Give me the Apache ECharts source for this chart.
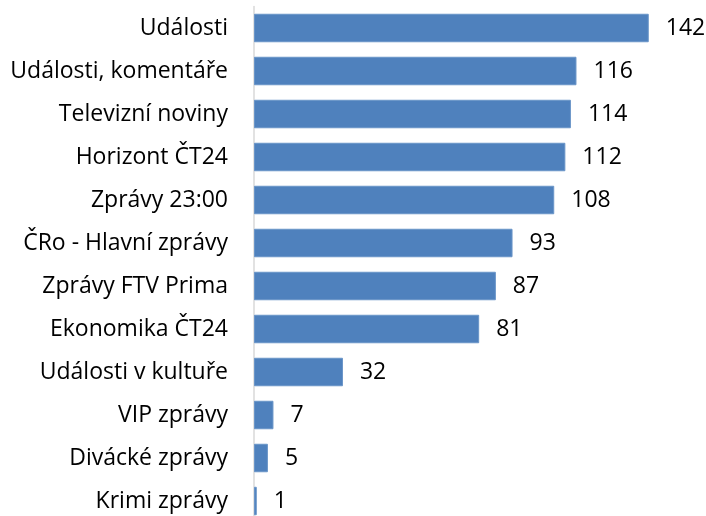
<!DOCTYPE html>
<html><head><meta charset="utf-8">
<script src="https://cdn.jsdelivr.net/npm/echarts@6/dist/echarts.min.js"></script>
<style>html,body{margin:0;padding:0;background:#fff}#c{width:706px;height:516px}</style>
</head><body><div id="c"></div>
<script>
const categories = ["Události","Události, komentáře","Televizní noviny","Horizont ČT24","Zprávy 23:00","ČRo - Hlavní zprávy","Zprávy FTV Prima","Ekonomika ČT24","Události v kultuře","VIP zprávy","Divácké zprávy","Krimi zprávy"];
const values = [142,116,114,112,108,93,87,81,32,7,5,1];
const FONT = "Open Sans";
const chart = echarts.init(document.getElementById('c'), null, {renderer:'canvas'});
chart.setOption({
  animation:false,
  grid:{left:254, right:35, top:6.5, bottom:-6.5, outerBoundsMode:'none', containLabel:false},
  xAxis:{type:'value', min:0, max:150, show:false},
  yAxis:{type:'category', inverse:true, data:categories,
    axisLine:{show:true, lineStyle:{color:'#d9d9d9', width:1.5}},
    axisTick:{show:false},
    axisLabel:{margin:26, fontFamily:FONT, fontSize:23, color:'#000'}},
  series:[{type:'bar', data:values, barWidth:28.5,
    itemStyle:{color:'#4F81BD', borderColor:'#6a95c8', borderWidth:1},
    label:{show:true, position:'right', distance:17, fontFamily:FONT, fontSize:23, color:'#000'}}]
});
</script></body></html>
